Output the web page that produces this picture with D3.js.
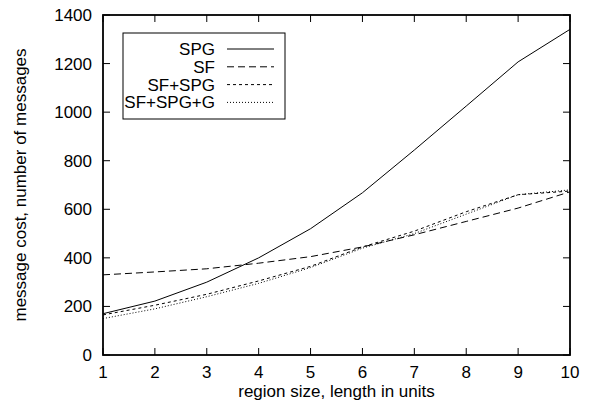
<!DOCTYPE html>
<html>
<head>
<meta charset="utf-8">
<script src="https://cdn.jsdelivr.net/npm/d3@7"></script>
<style>
  html, body { margin: 0; padding: 0; background: #fff; }
  svg { display: block; font-family: "Liberation Sans", Arial, sans-serif; }
</style>
</head>
<body>
<svg id="chart" width="591" height="415"></svg>
<script>
// Region size (units) on the x axis
const regionSizes = [1, 2, 3, 4, 5, 6, 7, 8, 9, 10];

// Message cost per protocol variant
const spg      = [170, 222, 300, 400, 520, 668, 844, 1025, 1207, 1341];
const sf       = [330, 342, 355, 378, 405, 445, 495, 550, 605, 672];
const sfSpg    = [165, 205, 250, 305, 365, 445, 510, 590, 660, 675];
const sfSpgG   = [150, 190, 240, 295, 360, 440, 500, 580, 660, 680];

const seriesNames = ["SPG", "SF", "SF+SPG", "SF+SPG+G"];
const seriesDash  = [null, "7,4", "3,3", "1,2"];

const xTicks = [1, 2, 3, 4, 5, 6, 7, 8, 9, 10];
const yTicks = [0, 200, 400, 600, 800, 1000, 1200, 1400];

const series = [spg, sf, sfSpg, sfSpgG].map((vals, i) => ({
  name: seriesNames[i], dash: seriesDash[i], values: vals
}));

const svg = d3.select("#chart");
const plot = { left: 103, right: 570, top: 15, bottom: 355 };

const x = d3.scaleLinear().domain([1, 10]).range([plot.left, plot.right]);
const y = d3.scaleLinear().domain([0, 1400]).range([plot.bottom, plot.top]);

const tickLen = 7;
const fontSize = 17;

// Mirrored inward ticks on all four sides
const g = svg.append("g");
g.selectAll(".xt").data(xTicks).enter().append("line")
  .attr("x1", d => x(d)).attr("x2", d => x(d))
  .attr("y1", plot.bottom).attr("y2", plot.bottom - tickLen)
  .attr("stroke", "#000").attr("stroke-width", 1);
g.selectAll(".xt2").data(xTicks).enter().append("line")
  .attr("x1", d => x(d)).attr("x2", d => x(d))
  .attr("y1", plot.top).attr("y2", plot.top + tickLen)
  .attr("stroke", "#000").attr("stroke-width", 1);
g.selectAll(".yt").data(yTicks).enter().append("line")
  .attr("x1", plot.left).attr("x2", plot.left + tickLen)
  .attr("y1", d => y(d)).attr("y2", d => y(d))
  .attr("stroke", "#000").attr("stroke-width", 1);
g.selectAll(".yt2").data(yTicks).enter().append("line")
  .attr("x1", plot.right).attr("x2", plot.right - tickLen)
  .attr("y1", d => y(d)).attr("y2", d => y(d))
  .attr("stroke", "#000").attr("stroke-width", 1);

// Tick labels
g.selectAll(".xl").data(xTicks).enter().append("text")
  .attr("x", d => x(d)).attr("y", 378)
  .attr("text-anchor", "middle").attr("font-size", fontSize)
  .text(d => d);
g.selectAll(".yl").data(yTicks).enter().append("text")
  .attr("x", plot.left - 11).attr("y", d => y(d) + 6)
  .attr("text-anchor", "end").attr("font-size", fontSize)
  .text(d => d);

// Axis titles
svg.append("text")
  .attr("x", (plot.left + plot.right) / 2).attr("y", 397)
  .attr("text-anchor", "middle").attr("font-size", fontSize)
  .text("region size, length in units");
svg.append("text")
  .attr("transform", `translate(26,${(plot.top + plot.bottom) / 2}) rotate(-90)`)
  .attr("text-anchor", "middle").attr("font-size", fontSize)
  .text("message cost, number of messages");

// Data lines
const line = d3.line().x((d, i) => x(regionSizes[i])).y(d => y(d));
svg.append("g").selectAll("path").data(series).enter().append("path")
  .attr("d", d => line(d.values))
  .attr("fill", "none").attr("stroke", "#000").attr("stroke-width", 1)
  .attr("stroke-dasharray", d => d.dash);

// Plot border
svg.append("rect")
  .attr("x", plot.left).attr("y", plot.top)
  .attr("width", plot.right - plot.left).attr("height", plot.bottom - plot.top)
  .attr("fill", "none").attr("stroke", "#000").attr("stroke-width", 1.8);

// Legend
const lg = svg.append("g");
lg.append("rect").attr("x", 123).attr("y", 33).attr("width", 162).attr("height", 86)
  .attr("fill", "#fff").attr("stroke", "#000").attr("stroke-width", 1);
const rows = lg.selectAll("g.row").data(series).enter().append("g")
  .attr("transform", (d, i) => `translate(0,${49 + i * 17.8})`);
rows.append("text").attr("x", 215).attr("y", 6)
  .attr("text-anchor", "end").attr("font-size", fontSize)
  .text(d => d.name);
rows.append("line").attr("x1", 227).attr("x2", 274).attr("y1", 0).attr("y2", 0)
  .attr("stroke", "#000").attr("stroke-width", 1)
  .attr("stroke-dasharray", d => d.dash);
</script>
</body>
</html>
